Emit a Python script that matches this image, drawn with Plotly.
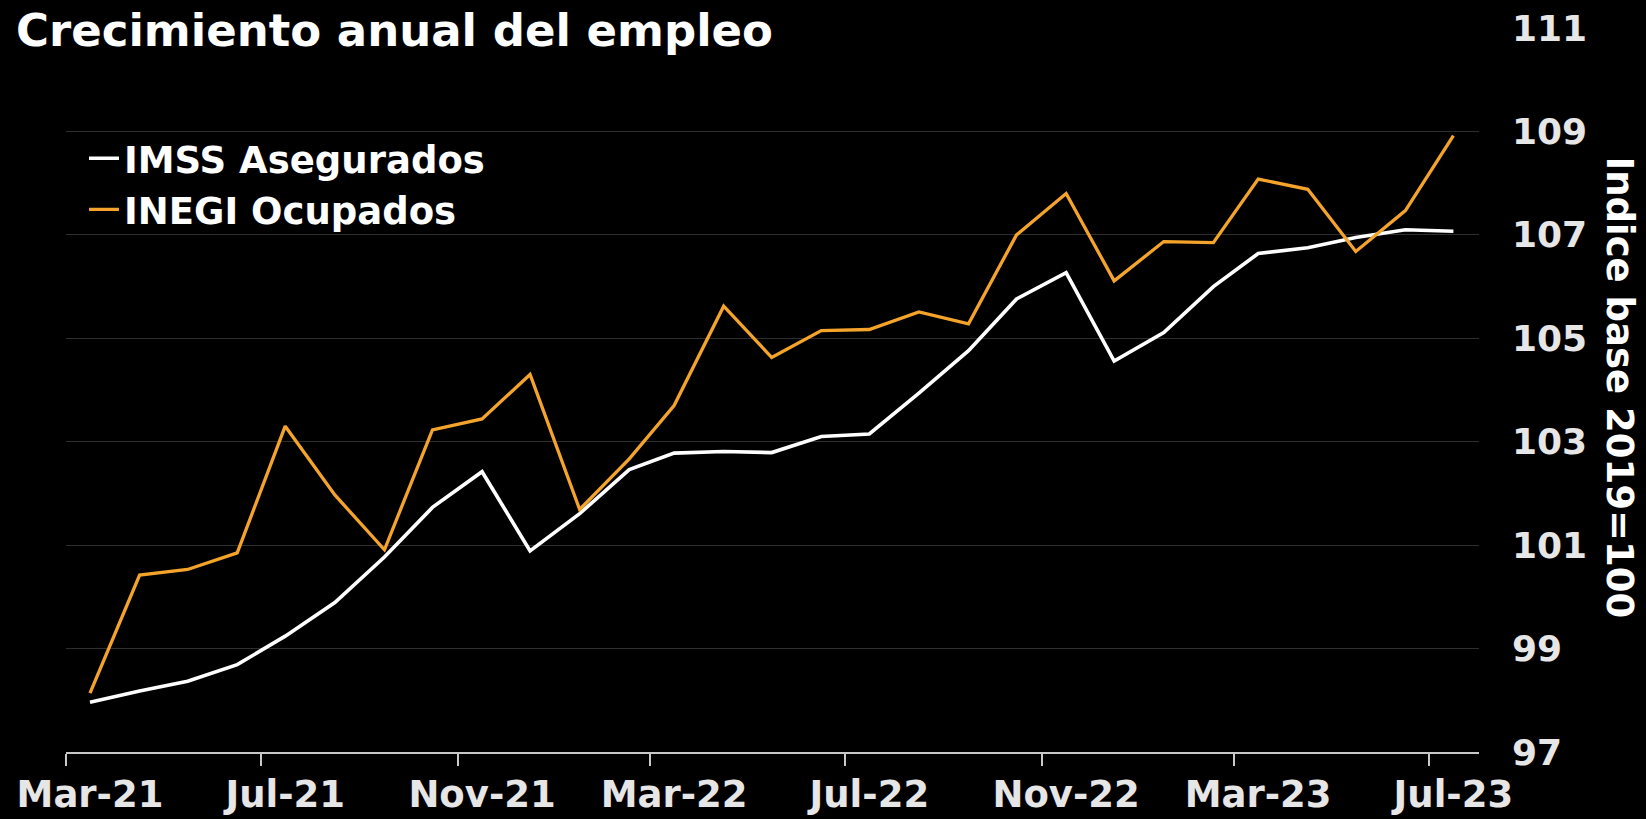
import plotly.graph_objects as go

months = ["2021-03-16", "2021-04-16", "2021-05-16", "2021-06-16", "2021-07-16", "2021-08-16",
          "2021-09-16", "2021-10-16", "2021-11-16", "2021-12-16", "2022-01-16", "2022-02-16",
          "2022-03-16", "2022-04-16", "2022-05-16", "2022-06-16", "2022-07-16", "2022-08-16",
          "2022-09-16", "2022-10-16", "2022-11-16", "2022-12-16", "2023-01-16", "2023-02-16",
          "2023-03-16", "2023-04-16", "2023-05-16", "2023-06-16", "2023-07-16"]

imss_asegurados = [97.96, 98.18, 98.37, 98.69, 99.24, 99.89, 100.77, 101.73, 102.42, 100.89,
                   101.61, 102.46, 102.78, 102.81, 102.79, 103.10, 103.15, 103.94, 104.76, 105.76,
                   106.27, 104.56, 105.11, 106.00, 106.64, 106.75, 106.95, 107.10, 107.07]

inegi_ocupados = [98.14, 100.42, 100.53, 100.85, 103.30, 101.97, 100.91, 103.23, 103.44, 104.30,
                  101.69, 102.67, 103.70, 105.62, 104.63, 105.15, 105.17, 105.51, 105.28, 107.00,
                  107.80, 106.11, 106.87, 106.85, 108.08, 107.88, 106.68, 107.47, 108.92]

series_names = ["IMSS Asegurados", "INEGI Ocupados"]
title_text = "Crecimiento anual del empleo"
yaxis_title = "Indice base 2019=100"

FONT = "DejaVu Sans"
W, H = 1646, 819
ML, MR, MT, MB = 66, 167, 28.4, 67.3

fig = go.Figure()
fig.add_trace(go.Scatter(x=months, y=imss_asegurados, mode="lines", name=series_names[0],
                         line=dict(color="#ffffff", width=3.6)))
fig.add_trace(go.Scatter(x=months, y=inegi_ocupados, mode="lines", name=series_names[1],
                         line=dict(color="#f4a32b", width=3.3)))

fig.update_layout(
    width=W, height=H, autosize=False,
    paper_bgcolor="#000000", plot_bgcolor="#000000",
    margin=dict(l=ML, r=MR, t=MT, b=MB, pad=0, autoexpand=False),
    font=dict(family=FONT, color="#e6e6e6", weight="bold"),
    title=dict(text=title_text, x=16 / W, xanchor="left", xref="container",
               y=1 - 30 / H, yanchor="middle", yref="container",
               font=dict(family=FONT, size=45, color="#ffffff", weight="bold")),
    showlegend=True,
    legend=dict(x=(84 - ML) / (W - ML - MR), xanchor="left", y=1 - (128 - MT) / (H - MT - MB),
                yanchor="top", bgcolor="rgba(0,0,0,0)", borderwidth=0,
                font=dict(family=FONT, size=37, color="#ffffff", weight="bold"),
                itemwidth=30, tracegroupgap=0),
    xaxis=dict(type="date", range=["2021-03-01", "2023-08-01"], automargin=False,
               tick0="2021-03-01", dtick="M4", tickformat="%b-%y",
               showgrid=False, zeroline=False,
               showline=True, linecolor="#c8c8c8", linewidth=2,
               ticks="outside", ticklen=12, tickwidth=1.5, tickcolor="#c8c8c8",
               ticklabelshift=24, ticklabelstandoff=-3,
               tickfont=dict(family=FONT, size=37, color="#e6e6e6", weight="bold")),
    yaxis=dict(side="right", range=[97, 111], tick0=97, dtick=2, automargin=False,
               showgrid=True, gridcolor="#2e2e2e", gridwidth=1.2,
               zeroline=False, showline=False, ticks="",
               ticklabelstandoff=32,
               tickfont=dict(family=FONT, size=36, color="#e6e6e6", weight="bold")),
)

fig.add_annotation(text=yaxis_title, xref="paper", yref="paper",
                   x=(1620 - ML) / (W - ML - MR), y=0.5 + (390.6 - 388) / (H - MT - MB),
                   xanchor="center", yanchor="middle", textangle=90, showarrow=False,
                   font=dict(family=FONT, size=37, color="#ffffff", weight="bold"))

post_js = ("document.documentElement.style.margin='0';document.body.style.margin='0';"
           "document.body.style.padding='0';document.body.style.overflow='hidden';"
           "document.body.style.background='#000';")
fig.write_html("out.html", post_script=post_js, config={"displayModeBar": False})
